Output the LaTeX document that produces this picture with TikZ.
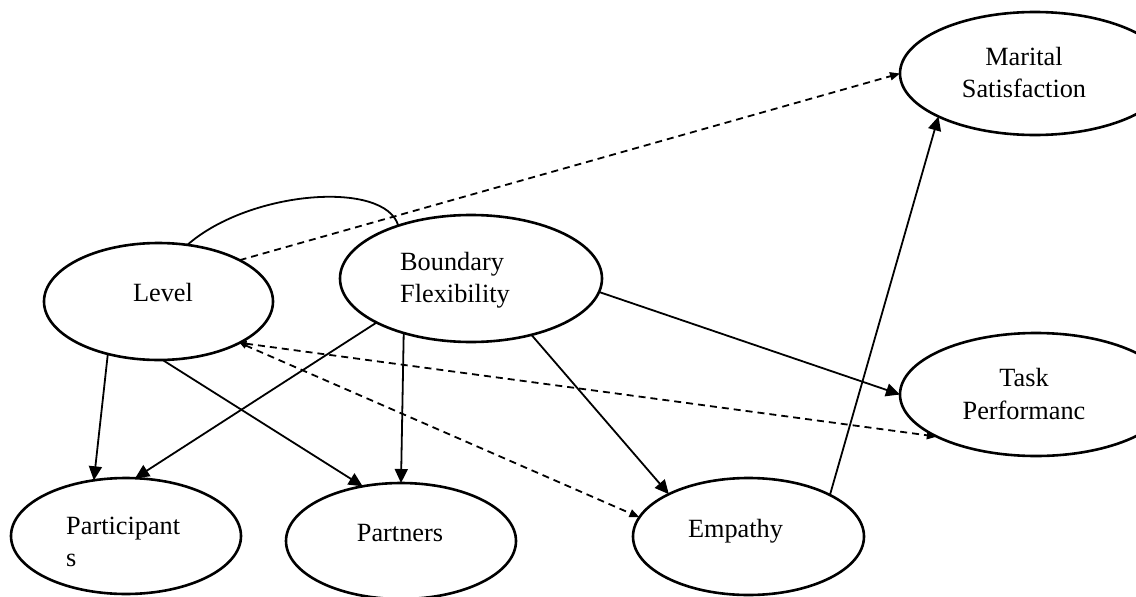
\documentclass[tikz,border=0pt]{standalone}
\usepackage{fontspec}
\setmainfont{Liberation Serif}
\usetikzlibrary{shapes.geometric,arrows.meta}
\begin{document}
\begin{tikzpicture}[x=1pt,y=-1pt,
  construct/.style={draw, ellipse, line width=2.6pt, inner sep=0pt, outer sep=0pt},
  lbl/.style={inner sep=0pt, font=\fontsize{26.3}{32}\selectfont},
  effect/.style={line width=1.8pt, -{Triangle[length=14pt,width=13pt]}},
  weakeffect/.style={line width=1.8pt, dash pattern=on 7pt off 5pt, -{Triangle[length=10pt,width=8pt]}},
  twoway/.style={line width=1.8pt, dash pattern=on 7pt off 5pt,
    {Triangle[length=7pt,width=6pt]}-{Triangle[length=10pt,width=8pt]}},
  assoc/.style={line width=1.8pt}
]
\useasboundingbox (0,0) rectangle (1136,597);
\clip (0,0) rectangle (1136,597);

% constructs
\node[construct, minimum width=270pt, minimum height=123pt] (ms) at (1035,73.5) {};
\node[construct, minimum width=229pt, minimum height=117pt] (lv) at (158.5,301.5) {};
\node[construct, minimum width=262pt, minimum height=127pt] (bf) at (471,278.5) {};
\node[construct, minimum width=272pt, minimum height=123pt] (tp) at (1036,394.5) {};
\node[construct, minimum width=230pt, minimum height=116pt] (pt) at (126,536) {};
\node[construct, minimum width=230pt, minimum height=116pt] (pn) at (401,541) {};
\node[construct, minimum width=231pt, minimum height=117pt] (em) at (748.5,536.5) {};

% labels
\node[lbl, anchor=base] (ms1) at (1024,65) {Marital};
\node[lbl, anchor=base] (ms2) at (1024,97) {Satisfaction};
\node[lbl, anchor=base] (lv1) at (163,301) {Level};
\node[lbl, anchor=base west] (bf1) at (400,270) {Boundary};
\node[lbl, anchor=base west] (bf2) at (400,302) {Flexibility};
\node[lbl, anchor=base] (tp1) at (1024,386) {Task};
\node[lbl, anchor=base] (tp2) at (1024,419) {Performanc};
\node[lbl, anchor=base west] (pt1) at (66,534) {Participant};
\node[lbl, anchor=base west] (pt2) at (66,566) {s};
\node[lbl, anchor=base] (pn1) at (400,541) {Partners};
\node[lbl, anchor=base] (em1) at (735.5,537) {Empathy};

% association between the two predictors
\draw[assoc] (lv.63) .. controls (250,190) and (385,180) .. (bf.144);

% direct effects
\draw[weakeffect] (lv.27) -- (ms.180);
\draw[effect] (lv.226) -- (pt.120.5);
\draw[effect] (lv.274) -- (pn.125);
\draw[effect] (bf.205.4) -- (pt.81);
\draw[effect] (bf.219.5) -- (pn.90);
\draw[effect] (bf.317.7) -- (em.152.5);
\draw[effect] (bf.354.5) -- (tp.180);
\draw[effect] (em.27.3) -- (ms.204.2);
\draw[twoway] (lv.333) -- (tp.203);
\draw[twoway] (lv.333) -- (em.170.8);
\end{tikzpicture}
\end{document}
